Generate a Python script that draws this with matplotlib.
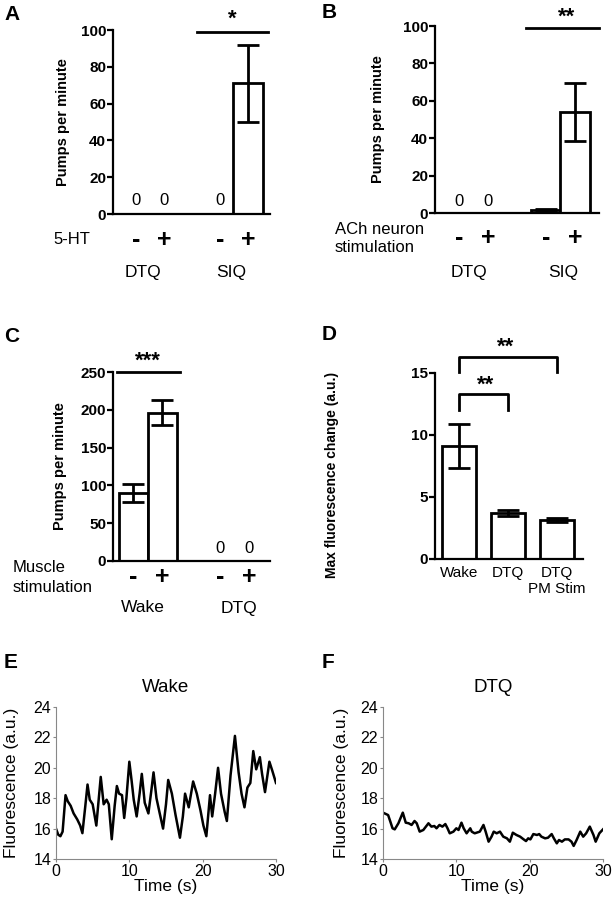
import matplotlib.pyplot as plt

plt.rcParams['font.family'] = ['Liberation Sans', 'DejaVu Sans']

W, H = 612, 899

# ---- datos ----
# A: 5-HT
a_pos = [1, 2, 4, 5]
a_vals = [0, 0, 0, 71]
a_err = [0, 0, 0, 21]
a_signs = ['-', '+', '-', '+']
a_groups = ['DTQ', 'SIQ']

# B: ACh neuron stimulation
b_pos = [1, 2, 4, 5]
b_vals = [0, 0, 1.5, 54]
b_err = [0, 0, 0.8, 15.5]
b_signs = ['-', '+', '-', '+']
b_groups = ['DTQ', 'SIQ']

# C: muscle stimulation
c_pos = [1, 2, 4, 5]
c_vals = [90, 196, 0, 0]
c_err = [12, 16.5, 0, 0]
c_signs = ['-', '+', '-', '+']
c_groups = ['Wake', 'DTQ']

# D: max fluorescence change
d_labels = ['Wake', 'DTQ', 'DTQ\nPM Stim']
d_vals = [9.1, 3.7, 3.15]
d_err = [1.8, 0.25, 0.17]

# E: Wake trace
e_t = [0.0, 0.3, 0.6, 0.9, 1.3, 1.6, 2.0, 2.4, 2.9, 3.3, 3.6, 4.0, 4.3, 4.6,
       5.0, 5.5, 5.8, 6.1, 6.5, 6.9, 7.2, 7.6, 8.0, 8.3, 8.6, 9.0, 9.3, 9.6,
       10.0, 10.3, 10.6, 11.0, 11.4, 11.7, 12.1, 12.6, 13.0, 13.3, 13.7, 14.1,
       14.6, 15.0, 15.3, 15.8, 16.3, 16.9, 17.3, 17.6, 18.1, 18.7, 19.2, 19.7,
       20.1, 20.5, 21.0, 21.3, 21.7, 22.1, 22.5, 23.0, 23.3, 23.8, 24.4, 24.9,
       25.3, 25.7, 26.1, 26.5, 26.9, 27.3, 27.8, 28.1, 28.5, 29.1, 29.5, 30.0]
e_v = [16.0, 15.6, 15.5, 15.8, 18.2, 17.8, 17.5, 17.0, 16.6, 16.2, 15.7, 17.5,
       18.9, 17.9, 17.6, 16.2, 17.8, 19.4, 17.6, 17.9, 17.6, 15.3, 17.5, 18.8,
       18.3, 18.2, 16.7, 18.0, 20.4, 19.2, 17.9, 16.8, 18.3, 19.6, 17.7, 17.0,
       18.5, 19.7, 18.0, 17.1, 16.0, 17.6, 19.2, 18.3, 16.9, 15.4, 16.8, 18.3,
       17.4, 19.1, 18.3, 17.2, 16.2, 15.5, 18.2, 16.8, 18.3, 20.0, 18.3, 17.1,
       16.5, 19.5, 22.1, 19.7, 18.3, 17.4, 18.7, 19.0, 21.1, 19.9, 20.7, 19.6,
       18.4, 20.4, 19.8, 19.0]

# F: DTQ trace
f_t = [0.0, 0.7, 1.0, 1.3, 1.6, 2.1, 2.7, 3.1, 3.5, 3.9, 4.3, 4.6, 5.0, 5.5,
       6.2, 6.6, 7.0, 7.3, 7.7, 8.1, 8.5, 8.8, 9.1, 9.6, 10.0, 10.3, 10.7,
       11.0, 11.4, 11.9, 12.1, 12.5, 13.2, 13.7, 14.0, 14.4, 14.8, 15.1, 15.5,
       15.95, 16.4, 16.9, 17.3, 17.7, 18.2, 18.7, 19.1, 19.5, 19.8, 20.1, 20.5,
       21.0, 21.3, 21.6, 22.1, 22.5, 23.0, 23.3, 23.7, 24.0, 24.4, 24.8, 25.3,
       25.7, 26.0, 26.4, 26.9, 27.3, 27.7, 28.2, 28.7, 29.0, 29.5, 30.0]
f_v = [17.05, 16.89, 16.46, 16.02, 15.95, 16.35, 17.05, 16.39, 16.35, 16.24,
       16.5, 16.35, 15.8, 15.91, 16.35, 16.13, 16.17, 16.02, 16.24, 16.13,
       16.3, 16.02, 15.69, 15.8, 16.02, 15.91, 16.39, 16.02, 15.69, 16.02,
       15.8, 15.69, 15.8, 16.24, 15.8, 15.14, 15.47, 15.8, 15.69, 15.8, 15.47,
       15.36, 15.14, 15.73, 15.58, 15.47, 15.32, 15.18, 15.36, 15.29, 15.64,
       15.58, 15.64, 15.47, 15.36, 15.4, 15.64, 15.36, 15.03, 15.25, 15.14,
       15.29, 15.29, 15.14, 14.86, 15.25, 15.8, 15.47, 15.69, 16.13, 15.58,
       15.14, 15.69, 15.95]


def box(l, t, r, b):
    return [l / W, 1 - b / H, (r - l) / W, (b - t) / H]


def ftext(x, y, s, **kw):
    fig.text(x / W, 1 - y / H, s, **kw)


def bar_axes(ax, pos, vals, err, xlim, ylim, yticks, width):
    for p, v, e in zip(pos, vals, err):
        if v > 0:
            ax.bar(p, v, width=width, color='white', edgecolor='black', linewidth=2)
            ax.errorbar(p, v, yerr=e, color='black', lw=2, capsize=8, capthick=2)
    ax.set_xlim(*xlim)
    ax.set_ylim(*ylim)
    ax.set_yticks(yticks)
    for s in ['top', 'right']:
        ax.spines[s].set_visible(False)
    for s in ['left', 'bottom']:
        ax.spines[s].set_linewidth(1.6)
    ax.tick_params(axis='y', width=1.6, length=4, labelsize=11, pad=1)
    for lab in ax.get_yticklabels():
        lab.set_fontweight('bold')
    ax.set_xticks([])


def signs(ax, hpx, pos, labels, dy):
    for p, s in zip(pos, labels):
        ax.text(p, -dy / hpx, s, transform=ax.get_xaxis_transform(), ha='center',
                va='center', fontsize=18, fontweight='bold')


fig = plt.figure(figsize=(W / 100, H / 100), dpi=100)

# ---- A ----
axA = fig.add_axes(box(113, 30, 270, 214))
bar_axes(axA, a_pos, a_vals, a_err, (0.18, 5.79), (0, 100), range(0, 101, 20), 1.05)
axA.set_ylabel('Pumps per minute', fontsize=10.5, fontweight='bold')
axA.yaxis.set_label_coords(-43 / 157, 0.5)
for p, v in zip(a_pos, a_vals):
    if v == 0:
        axA.text(p, 7.6, '0', ha='center', va='center', fontsize=12)
axA.plot([3.18, 5.71], [98.9, 98.9], color='black', lw=2, clip_on=False)
axA.text(4.45, 106, '*', ha='center', va='center', fontsize=16, fontweight='bold')
signs(axA, 184, a_pos, a_signs, 26)
ftext(72, 240, '5-HT', ha='center', va='center', fontsize=12)
ftext(143, 272, a_groups[0], ha='center', va='center', fontsize=12.5)
ftext(231, 272, a_groups[1], ha='center', va='center', fontsize=12.5)
ftext(4, 14, 'A', ha='left', va='center', fontsize=15, fontweight='bold')

# ---- B ----
axB = fig.add_axes(box(435, 26, 599, 213))
bar_axes(axB, b_pos, b_vals, b_err, (0.17, 5.83), (0, 100), range(0, 101, 20), 1.03)
axB.set_ylabel('Pumps per minute', fontsize=10.5, fontweight='bold')
axB.yaxis.set_label_coords(-50 / 164, 0.5)
for p, v in zip(b_pos, b_vals):
    if v == 0:
        axB.text(p, 5.9, '0', ha='center', va='center', fontsize=12)
axB.plot([3.31, 5.83], [98.9, 98.9], color='black', lw=2, clip_on=False)
axB.text(4.7, 104.5, '**', ha='center', va='center', fontsize=16, fontweight='bold')
signs(axB, 187, b_pos, b_signs, 25)
ftext(335, 230, 'ACh neuron', ha='left', va='center', fontsize=12)
ftext(335, 248, 'stimulation', ha='left', va='center', fontsize=12)
ftext(469, 273, b_groups[0], ha='center', va='center', fontsize=12.5)
ftext(563, 273, b_groups[1], ha='center', va='center', fontsize=12.5)
ftext(322, 12, 'B', ha='left', va='center', fontsize=15, fontweight='bold')

# ---- C ----
axC = fig.add_axes(box(113, 372, 270, 561))
bar_axes(axC, c_pos, c_vals, c_err, (0.31, 5.72), (0, 250), range(0, 251, 50), 1.0)
axC.set_ylabel('Pumps per minute', fontsize=10.5, fontweight='bold')
axC.yaxis.set_label_coords(-46 / 157, 0.5)
for p, v in zip(c_pos, c_vals):
    if v == 0:
        axC.text(p, 15.9, '0', ha='center', va='center', fontsize=12)
axC.plot([0.45, 2.62], [250, 250], color='black', lw=2, clip_on=False)
axC.text(1.5, 264, '***', ha='center', va='center', fontsize=16, fontweight='bold')
signs(axC, 189, c_pos, c_signs, 16)
ftext(13, 568, 'Muscle', ha='left', va='center', fontsize=12)
ftext(13, 588, 'stimulation', ha='left', va='center', fontsize=12)
ftext(143, 608, c_groups[0], ha='center', va='center', fontsize=12.5)
ftext(239, 608, c_groups[1], ha='center', va='center', fontsize=12.5)
ftext(4, 336, 'C', ha='left', va='center', fontsize=15, fontweight='bold')

# ---- D ----
axD = fig.add_axes(box(435, 373, 583, 559))
d_pos = list(range(len(d_vals)))
bar_axes(axD, d_pos, d_vals, d_err, (-0.49, 2.53), (0, 15), [0, 5, 10, 15], 0.68)
axD.set_xticks(d_pos)
axD.set_xticklabels(d_labels, fontsize=11, linespacing=1.2)
axD.tick_params(axis='x', length=0, pad=5)
axD.set_ylabel('Max fluorescence change (a.u.)', fontsize=10, fontweight='bold')
axD.yaxis.set_label_coords(-0.65, 0.45)
axD.plot([0, 0, 1, 1], [12.0, 13.3, 13.3, 12.0], color='black', lw=2, clip_on=False)
axD.plot([0, 0, 2, 2], [15.1, 16.3, 16.3, 15.1], color='black', lw=2, clip_on=False)
axD.text(0.55, 14.0, '**', ha='center', va='center', fontsize=16, fontweight='bold')
axD.text(0.95, 17.1, '**', ha='center', va='center', fontsize=16, fontweight='bold')
ftext(322, 335, 'D', ha='left', va='center', fontsize=15, fontweight='bold')


# ---- E, F ----
def trace_axes(ax, t, v, title, lab_x):
    ax.plot(t, v, color='black', lw=1.8)
    ax.set_xlim(0, 30)
    ax.set_ylim(14, 24)
    ax.set_xticks([0, 10, 20, 30])
    ax.set_yticks(range(14, 25, 2))
    for s in ['top', 'right']:
        ax.spines[s].set_visible(False)
    for s in ['left', 'bottom']:
        ax.spines[s].set_color('#888888')
        ax.spines[s].set_linewidth(0.8)
    ax.tick_params(color='#888888', length=2.5, width=0.8, labelsize=11.5, pad=1)
    ax.set_xlabel('Time (s)', fontsize=12.5, labelpad=0)
    ax.set_ylabel('Fluorescence (a.u.)', fontsize=12.5)
    ax.yaxis.set_label_coords(lab_x, 0.5)
    ax.text(0.5, 1 + 20 / 152, title, transform=ax.transAxes, ha='center',
            va='center', fontsize=13.5)


axE = fig.add_axes(box(56, 707, 276, 859))
trace_axes(axE, e_t, e_v, 'Wake', -37 / 220)
ftext(4, 663, 'E', ha='left', va='center', fontsize=15, fontweight='bold')

axF = fig.add_axes(box(383, 707, 603, 859))
trace_axes(axF, f_t, f_v, 'DTQ', -34 / 220)
ftext(322, 663, 'F', ha='left', va='center', fontsize=15, fontweight='bold')

fig.savefig('out.png', dpi=100)
